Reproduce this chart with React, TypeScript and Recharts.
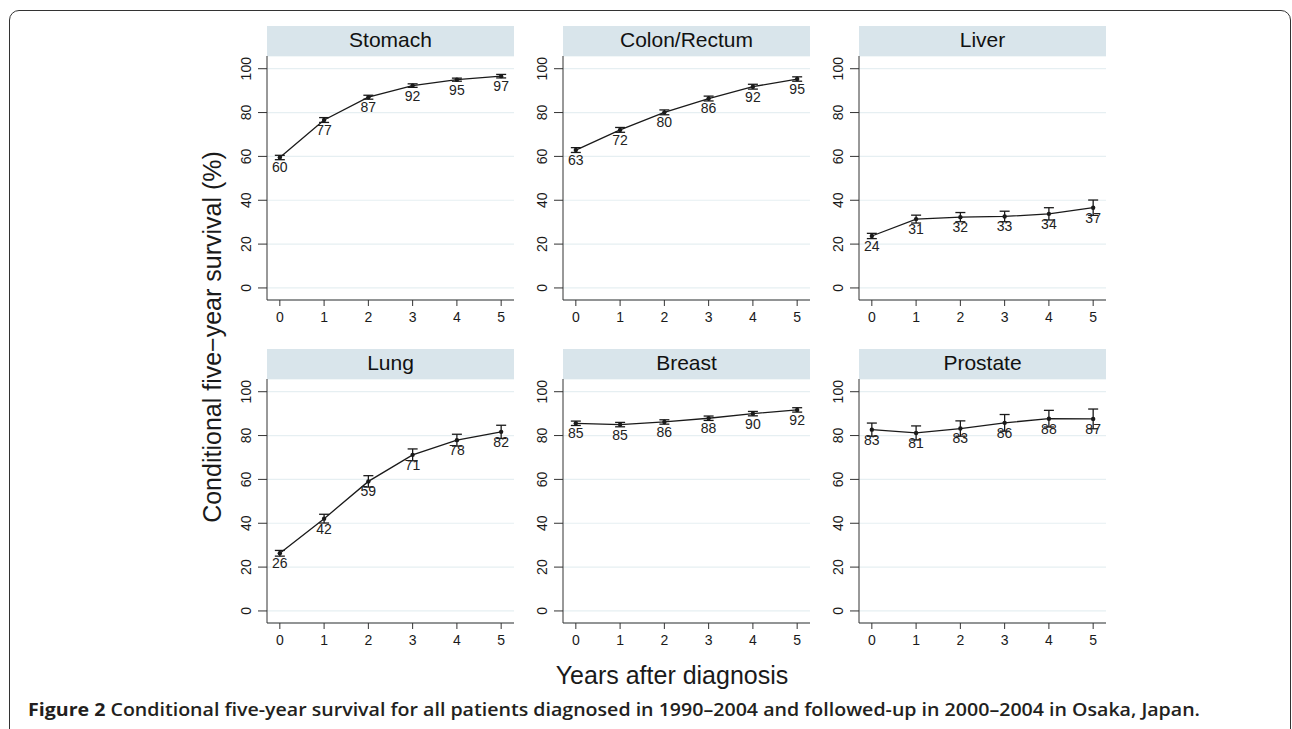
import React from "react";
import { LineChart, Line, XAxis, YAxis, CartesianGrid, ErrorBar, LabelList } from "recharts";

// years since diagnosis (x) and the y ticks shared by every panel
const years = [0, 1, 2, 3, 4, 5];
const yTicks = [0, 20, 40, 60, 80, 100];

const stomachVals = [59.5, 76.6, 87.0, 92.3, 95.0, 96.6];
const stomachErr = [1.0, 1.1, 0.9, 0.8, 0.7, 0.8];
const stomachLbl = [60, 77, 87, 92, 95, 97];

const colonVals = [62.9, 72.1, 80.1, 86.4, 91.8, 95.3];
const colonErr = [1.1, 1.1, 1.1, 1.1, 1.1, 1.0];
const colonLbl = [63, 72, 80, 86, 92, 95];

const liverVals = [23.7, 31.4, 32.3, 32.6, 33.8, 36.6];
const liverErr = [1.2, 1.8, 2.1, 2.4, 2.8, 3.5];
const liverLbl = [24, 31, 32, 33, 34, 37];

const lungVals = [26.3, 42.1, 59.1, 71.2, 77.9, 81.7];
const lungErr = [1.3, 2.0, 2.6, 2.7, 2.7, 3.0];
const lungLbl = [26, 42, 59, 71, 78, 82];

const breastVals = [85.6, 85.0, 86.2, 87.9, 90.0, 91.7];
const breastErr = [1.0, 1.0, 1.0, 1.0, 1.0, 1.0];
const breastLbl = [85, 85, 86, 88, 90, 92];

const prostateVals = [82.7, 81.2, 83.2, 85.8, 87.7, 87.6];
const prostateErr = [3.0, 3.2, 3.5, 3.8, 3.8, 4.5];
const prostateLbl = [83, 81, 83, 86, 88, 87];

const panels = [
  { title: "Stomach", vals: stomachVals, err: stomachErr, lbl: stomachLbl },
  { title: "Colon/Rectum", vals: colonVals, err: colonErr, lbl: colonLbl },
  { title: "Liver", vals: liverVals, err: liverErr, lbl: liverLbl },
  { title: "Lung", vals: lungVals, err: lungErr, lbl: lungLbl },
  { title: "Breast", vals: breastVals, err: breastErr, lbl: breastLbl },
  { title: "Prostate", vals: prostateVals, err: prostateErr, lbl: prostateLbl },
];

const font = "'Liberation Sans', Arial, Helvetica, sans-serif";
const ink = "#1a1a1a";

const colLeft = [267, 563, 859];
const rowTop = [26, 349];
const PLOT_W = 247;
const PLOT_H = 244;
const HEAD_H = 30;
const AXIS_W = 40;
const XAX_H = 34;

function YTick(props: any) {
  const { x, y, payload } = props;
  const tx = x - 5;
  return (
    <text x={tx} y={y} transform={`rotate(-90, ${tx}, ${y})`} textAnchor="middle"
      fontSize={14} fill={ink} fontFamily={font}>
      {payload.value}
    </text>
  );
}

function Panel({ p, col, row }: { p: (typeof panels)[number]; col: number; row: number }) {
  const data = years.map((yr, i) => ({ year: yr, v: p.vals[i], e: p.err[i], lbl: p.lbl[i] }));
  const left = colLeft[col];
  const top = rowTop[row];
  return (
    <>
      <div style={{
        position: "absolute", left, top, width: PLOT_W, height: HEAD_H, background: "#d9e5eb",
        textAlign: "center", fontFamily: font, fontSize: 21, lineHeight: "27px", color: "#111",
      }}>{p.title}</div>
      <div style={{ position: "absolute", left: left - AXIS_W, top: top + HEAD_H }}>
        <LineChart width={AXIS_W + PLOT_W} height={PLOT_H + XAX_H} data={data}
          margin={{ top: 0, right: 0, bottom: 0, left: 0 }}>
          <CartesianGrid vertical={false} stroke="#e6eff2" strokeWidth={1.2} />
          <XAxis dataKey="year" type="number" domain={[-0.29, 5.29]} ticks={years}
            allowDataOverflow height={XAX_H} tickSize={6} tickMargin={6}
            axisLine={{ stroke: "#333" }} tickLine={{ stroke: "#333" }}
            tick={{ fontSize: 14, fill: ink, fontFamily: font }} />
          <YAxis type="number" domain={[-5.5, 105.8]} ticks={yTicks} allowDataOverflow
            width={AXIS_W} tickSize={9} tickMargin={2}
            axisLine={{ stroke: "#333" }} tickLine={{ stroke: "#333" }} tick={<YTick />} />
          <Line type="linear" dataKey="v" stroke={ink} strokeWidth={1.3}
            dot={{ r: 2.2, fill: ink, stroke: ink, strokeWidth: 0 }} isAnimationActive={false}>
            <ErrorBar dataKey="e" width={5} stroke={ink} strokeWidth={1.3} direction="y" />
            <LabelList dataKey="lbl" position="bottom" offset={5} fontSize={14} fill="#222"
              fontFamily={font} />
          </Line>
        </LineChart>
      </div>
    </>
  );
}

export default function App() {
  return (
    <div style={{ position: "absolute", left: 0, top: 0, width: 1292, height: 729, background: "#fff", overflow: "hidden" }}>
      <div style={{
        position: "absolute", left: 9, top: 10, width: 1280, height: 760,
        border: "1.5px solid #333", borderRadius: 10,
      }} />
      {panels.map((p, i) => (
        <Panel key={p.title} p={p} col={i % 3} row={Math.floor(i / 3)} />
      ))}
      <svg width={1292} height={729} style={{ position: "absolute", left: 0, top: 0, pointerEvents: "none" }}>
        <text x={221} y={337} transform="rotate(-90, 221, 337)" textAnchor="middle"
          fontFamily={font} fontSize={25} fill={ink}>Conditional five−year survival (%)</text>
        <text x={672} y={684} textAnchor="middle" fontFamily={font} fontSize={25} fill={ink}>
          Years after diagnosis
        </text>
        <text x={28} y={716} fontFamily="'Open Sans', sans-serif" fontSize={17.5} fill="#231f20"
          textLength={1172} lengthAdjust="spacingAndGlyphs">
          <tspan fontWeight={700}>Figure 2</tspan>
          <tspan fontWeight={600}> Conditional five-year survival for all patients diagnosed in 1990–2004 and followed-up in 2000–2004 in Osaka, Japan.</tspan>
        </text>
      </svg>
    </div>
  );
}
